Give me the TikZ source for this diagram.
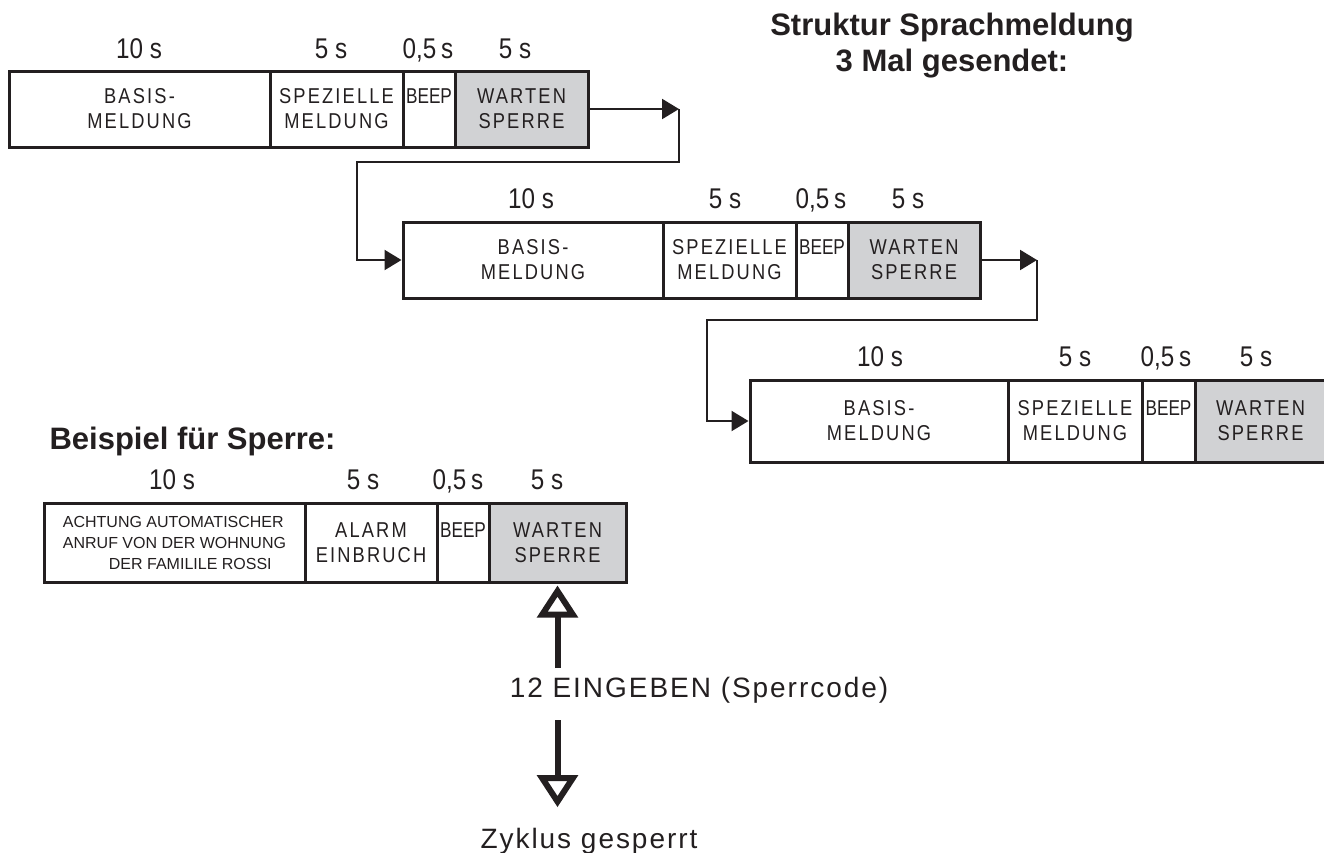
\documentclass[tikz,border=0pt]{standalone}
\usepackage{fontspec}
\setmainfont{Liberation Sans}
\newfontfamily\boxfont{Liberation Sans}[FakeStretch=0.85,LetterSpace=10]
\newfontfamily\beepfont{Liberation Sans}[FakeStretch=0.8]
\newfontfamily\condfont{Liberation Sans}[FakeStretch=0.85]
\newfontfamily\bigfont{Liberation Sans}[LetterSpace=7]
\usetikzlibrary{arrows.meta}
\definecolor{ink}{RGB}{35,31,32}
\definecolor{wgray}{RGB}{209,210,212}
\begin{document}
\begin{tikzpicture}[x=1pt,y=-1pt,
  seg/.style={draw=ink, line width=3pt, inner sep=0pt, text=ink, align=center,
    font=\boxfont\fontsize{21.5}{25}\selectfont},
  wait/.style={seg, fill=wgray},
  beep/.style={seg, font=\beepfont\fontsize{21.5}{25}\selectfont},
  dur/.style={anchor=base, text=ink, font=\condfont\fontsize{28.5}{30}\selectfont},
  head/.style={text=ink, font=\bfseries\fontsize{31}{36}\selectfont},
  conn/.style={draw=ink, line width=2.2pt},
  tipf/.style={-{Triangle[length=17pt,width=20pt]}},
  big/.style={draw=ink, line width=6pt, -{Triangle[open,length=32pt,width=40pt]}},
  bigtext/.style={anchor=base, text=ink, font=\bigfont\fontsize{28}{32}\selectfont}
]
\useasboundingbox (0,0) rectangle (1324,852);

% title
\node[head, align=center] (title) at (952,46) {Struktur Sprachmeldung\\3 Mal gesendet:};

% row 1
\node[seg,  minimum width=261pt, minimum height=76pt] (b1) at (139.5,109) {BASIS-\\MELDUNG};
\node[seg,  minimum width=133pt, minimum height=76pt] (s1) at (336.5,109) {SPEZIELLE\\MELDUNG};
\node[beep, minimum width=52pt,  minimum height=76pt] (e1) at (429,109) {BEEP\\\phantom{M}};
\node[wait, minimum width=133pt, minimum height=76pt] (w1) at (521.5,109) {WARTEN\\SPERRE};
\node[dur] (l1a) at (139,58) {10 s};
\node[dur] (l1b) at (331,58) {5 s};
\node[dur] (l1c) at (428,58) {0,5\,s};
\node[dur] (l1d) at (515,58) {5 s};

% row 2
\node[seg,  minimum width=260pt, minimum height=76pt] (b2) at (533,260) {BASIS-\\MELDUNG};
\node[seg,  minimum width=133pt, minimum height=76pt] (s2) at (729.5,260) {SPEZIELLE\\MELDUNG};
\node[beep, minimum width=52pt,  minimum height=76pt] (e2) at (822,260) {BEEP\\\phantom{M}};
\node[wait, minimum width=132pt, minimum height=76pt] (w2) at (914,260) {WARTEN\\SPERRE};
\node[dur] (l2a) at (531,208) {10 s};
\node[dur] (l2b) at (725,208) {5 s};
\node[dur] (l2c) at (821,208) {0,5\,s};
\node[dur] (l2d) at (908,208) {5 s};

% row 3
\node[seg,  minimum width=258pt, minimum height=82pt] (b3) at (879,421) {BASIS-\\MELDUNG};
\node[seg,  minimum width=134pt, minimum height=82pt] (s3) at (1075,421) {SPEZIELLE\\MELDUNG};
\node[beep, minimum width=53pt,  minimum height=82pt] (e3) at (1168.5,421) {BEEP\\\phantom{M}};
\node[wait, minimum width=131pt, minimum height=82pt] (w3) at (1260.5,421) {WARTEN\\SPERRE};
\node[dur] (l3a) at (880,366) {10 s};
\node[dur] (l3b) at (1075,366) {5 s};
\node[dur] (l3c) at (1166,366) {0,5\,s};
\node[dur] (l3d) at (1256,366) {5 s};

% connectors between rows
\coordinate (c1) at (679,109);
\coordinate (d1) at (357,162);
\draw[conn,tipf] (w1.east) -- (c1);
\draw[conn,tipf] (c1) |- (d1) |- (b2.west);
\coordinate (c2) at (1037,260);
\coordinate (d2) at (707,320);
\draw[conn,tipf] (w2.east) -- (c2);
\draw[conn,tipf] (c2) |- (d2) |- (b3.west);

% example
\node[head, anchor=west] (bsp) at (46,441) {Beispiel für Sperre:};
\node[seg, minimum width=261pt, minimum height=79pt, font=\fontsize{16}{21}\selectfont, align=left] (x1) at (174.5,542.5)
  {ACHTUNG AUTOMATISCHER\\ANRUF VON DER WOHNUNG\\\hspace*{46pt}DER FAMILILE ROSSI};
\node[seg,  minimum width=132pt, minimum height=79pt] (x2) at (371,542.5) {ALARM\\EINBRUCH};
\node[beep, minimum width=52pt,  minimum height=79pt] (x3) at (463,542.5) {BEEP\\\phantom{M}};
\node[wait, minimum width=137pt, minimum height=79pt] (x4) at (557.5,542.5) {WARTEN\\SPERRE};
\node[dur] (lxa) at (172,489) {10 s};
\node[dur] (lxb) at (363,489) {5 s};
\node[dur] (lxc) at (458,489) {0,5\,s};
\node[dur] (lxd) at (547,489) {5 s};

\node[bigtext] (code) at (699,697) {12 EINGEBEN (Sperrcode)};
\node[bigtext] (zyk) at (589,848) {Zyklus gesperrt};
\draw[big] ([yshift=5pt]code.north -| x4.south) -- ([yshift=-2pt]x4.south);
\draw[big] ([yshift=-14pt]code.south -| x4.south) -- ([yshift=17pt]zyk.north -| x4.south);
\end{tikzpicture}
\end{document}
